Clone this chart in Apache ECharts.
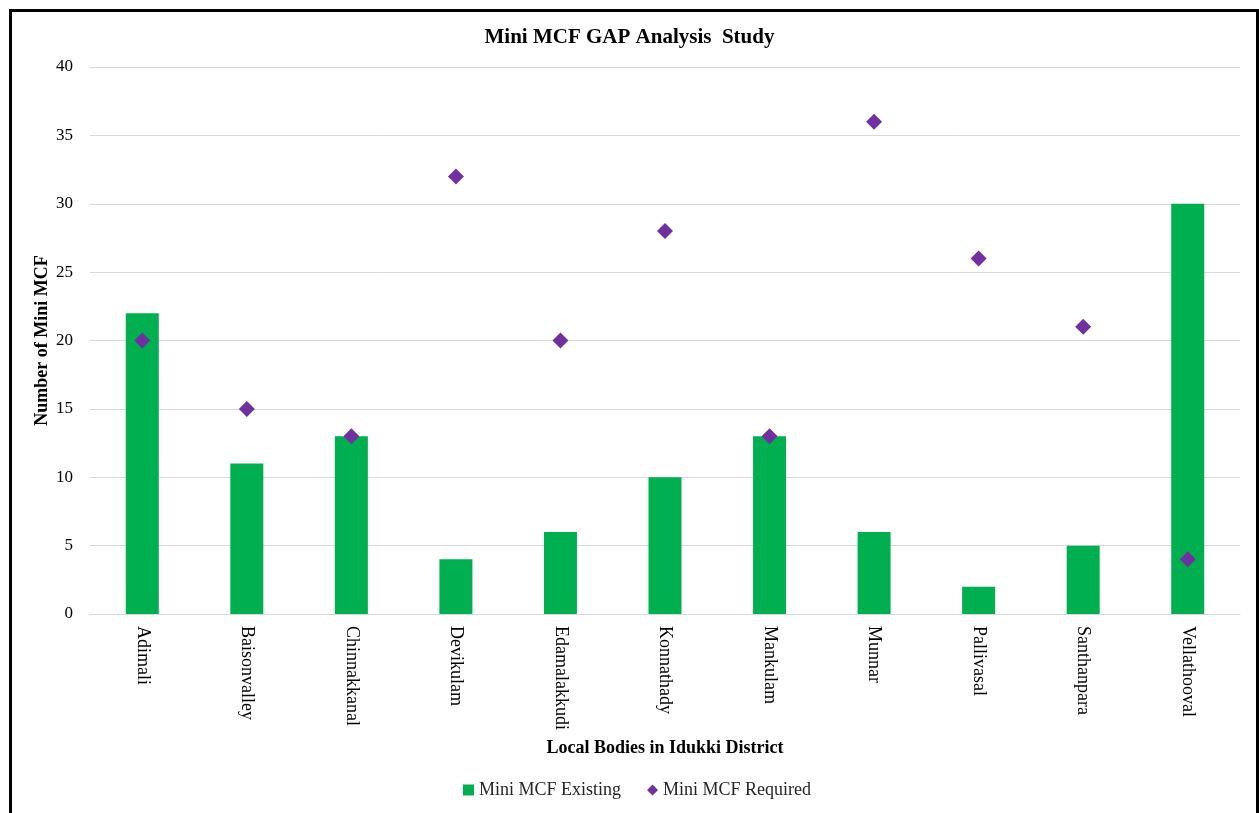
<!DOCTYPE html>
<html>
<head>
<meta charset="utf-8">
<script src="https://cdn.jsdelivr.net/npm/echarts@6/dist/echarts.min.js"></script>
<style>
  html, body { margin: 0; padding: 0; overflow: hidden; background: #fff; }
  #chart { position: absolute; left: 0; top: 0; width: 1259px; height: 813px; }
  #frame { position: absolute; left: 9px; top: 9px; width: 1244px; height: 830px; border: 3px solid #000; pointer-events: none; }
</style>
</head>
<body>
<div id="chart"></div>
<div id="frame"></div>
<script>
var categories = ['Adimali', 'Baisonvalley', 'Chinnakkanal', 'Devikulam', 'Edamalakkudi', 'Konnathady', 'Mankulam', 'Munnar', 'Pallivasal', 'Santhanpara', 'Vellathooval'];
var existing = [22, 11, 13, 4, 6, 10, 13, 6, 2, 5, 30];
var required = [20, 15, 13, 32, 20, 28, 13, 36, 26, 21, 4];
var yTicks = { min: 0, max: 40, interval: 5 };

var font = '"Liberation Serif", "Times New Roman", serif';
var chart = echarts.init(document.getElementById('chart'));

var option = {
	animation: false,
	textStyle: { fontFamily: font },
	title: {
		text: 'Mini MCF GAP Analysis  Study',
		left: 'center',
		top: 22,
		textStyle: { fontFamily: font, fontSize: 21, fontWeight: 'bold', color: '#000' }
	},
	grid: { left: 90, right: 19, top: 67, bottom: 199 },
	legend: {
		bottom: 9,
		left: 458,
		itemGap: 26,
		itemWidth: 11,
		itemHeight: 11,
		textStyle: { fontFamily: font, fontSize: 18, color: '#262626' },
		data: [
			{ name: 'Mini MCF Existing', icon: 'rect' },
			{ name: 'Mini MCF Required', icon: 'diamond' }
		]
	},
	xAxis: {
		type: 'category',
		data: categories,
		name: 'Local Bodies in Idukki District',
		nameLocation: 'middle',
		nameGap: 125,
		nameMoveOverlap: false,
		nameTextStyle: { fontFamily: font, fontSize: 18, fontWeight: 'bold', color: '#000' },
		axisLine: { lineStyle: { color: '#d9d9d9', width: 1 } },
		axisTick: { show: false },
		axisLabel: { rotate: -90, margin: 12, fontFamily: font, fontSize: 18, color: '#000', interval: 0 }
	},
	yAxis: {
		type: 'value',
		min: yTicks.min,
		max: yTicks.max,
		interval: yTicks.interval,
		name: 'Number of Mini MCF',
		nameLocation: 'middle',
		nameGap: 39,
		nameMoveOverlap: false,
		nameTextStyle: { fontFamily: font, fontSize: 18, fontWeight: 'bold', color: '#000' },
		axisLine: { show: false },
		axisTick: { show: false },
		axisLabel: { margin: 17, fontFamily: font, fontSize: 17, color: '#000' },
		splitLine: { lineStyle: { color: '#d9d9d9', width: 1 } }
	},
	series: [{
		name: 'Mini MCF Existing',
		type: 'bar',
		barWidth: 33,
		itemStyle: { color: '#00b050' },
		data: existing
	}, {
		name: 'Mini MCF Required',
		type: 'scatter',
		symbol: 'diamond',
		symbolSize: 16,
		itemStyle: { color: '#7030a0', opacity: 1 },
		data: required
	}]
};

chart.setOption(option);
</script>
</body>
</html>
